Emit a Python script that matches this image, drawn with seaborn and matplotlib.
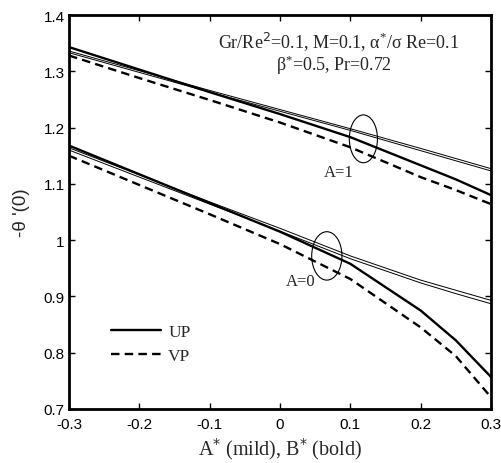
import numpy as np
import pandas as pd
import matplotlib
matplotlib.use("Agg")
import matplotlib.pyplot as plt
from matplotlib.patches import Ellipse
import seaborn as sns

# x grid for parameters
x_vals = [-0.3, -0.2, -0.1, 0.0, 0.1, 0.2, 0.25, 0.3]

# A=1 group
a1_bold_up = [1.343, 1.303, 1.263, 1.224, 1.183, 1.133, 1.108, 1.080]
a1_bold_vp = [1.328, 1.288, 1.249, 1.209, 1.165, 1.112, 1.089, 1.064]
a1_thin_up = [1.336, 1.301, 1.266, 1.232, 1.198, 1.163, 1.145, 1.127]
a1_thin_vp = [1.333, 1.298, 1.263, 1.229, 1.195, 1.159, 1.141, 1.123]

# A=0 group
a0_bold_up = [1.168, 1.117, 1.066, 1.015, 0.958, 0.875, 0.822, 0.757]
a0_bold_vp = [1.150, 1.098, 1.046, 0.993, 0.931, 0.845, 0.794, 0.721]
a0_thin_up = [1.164, 1.116, 1.068, 1.021, 0.972, 0.929, 0.911, 0.893]
a0_thin_vp = [1.160, 1.112, 1.064, 1.016, 0.967, 0.924, 0.905, 0.887]

sns.set_theme(style="white")
plt.rcParams["font.family"] = ["Liberation Sans", "DejaVu Sans"]

fig = plt.figure(figsize=(5.02, 4.64), dpi=100)
ax = fig.add_axes([0.1375, 0.1164, 0.8405, 0.8491])

series = [
    (a1_bold_up, 1.7, "-"), (a1_bold_vp, 1.7, "--"),
    (a1_thin_up, 0.7, "-"), (a1_thin_vp, 0.7, "-"),
    (a0_bold_up, 1.7, "-"), (a0_bold_vp, 1.7, "--"),
    (a0_thin_up, 0.7, "-"), (a0_thin_vp, 0.7, "-"),
]
for yv, lw, ls in series:
    df = pd.DataFrame({"x": x_vals, "y": yv})
    sns.lineplot(data=df, x="x", y="y", ax=ax, color="black", lw=lw,
                 linestyle=ls, legend=False)
    if ls == "--":
        ax.lines[-1].set_dashes((3.6, 2.2))

# Legend handles
h_up, = ax.plot([], [], color="black", lw=1.7, linestyle="-", label="UP")
h_vp, = ax.plot([], [], color="black", lw=1.7, linestyle="--", dashes=(3.6, 2.2), label="VP")
ax.legend(handles=[h_up, h_vp], loc="upper left",
          bbox_to_anchor=(0.062, 0.255), frameon=False,
          prop={"family": "Liberation Serif", "size": 12.5},
          handlelength=2.9, handletextpad=0.4, labelspacing=0.45)

# Ellipses
ax.add_patch(Ellipse((0.1186, 1.180), 0.040, 0.085, fill=False, ec="black", lw=0.8))
ax.add_patch(Ellipse((0.0666, 0.972), 0.043, 0.086, fill=False, ec="black", lw=0.8))
ax.text(0.083, 1.121, "A=1", ha="center", va="center", family="Liberation Serif", fontsize=12)
ax.text(0.029, 0.928, "A=0", ha="center", va="center", family="Liberation Serif", fontsize=12)

ax.text(0.0833, 1.354, r"Gr/Re$^{2}$=0.1, M=0.1, $\mathregular{\alpha^{*}}$/$\mathregular{\sigma}$ Re=0.1",
        ha="center", va="center", family="Liberation Serif", fontsize=13)
ax.text(0.0765, 1.313, r"$\mathregular{\beta^{*}}$=0.5, Pr=0.72",
        ha="center", va="center", family="Liberation Serif", fontsize=13)

ax.set_xlim(-0.3, 0.3)
ax.set_ylim(0.7, 1.4)
ax.set_xticks([-0.3, -0.2, -0.1, 0, 0.1, 0.2, 0.3])
ax.set_xticklabels(["-0.3", "-0.2", "-0.1", "0", "0.1", "0.2", "0.3"])
ax.set_yticks([0.7, 0.8, 0.9, 1.0, 1.1, 1.2, 1.3, 1.4])
ax.set_yticklabels(["0.7", "0.8", "0.9", "1", "1.1", "1.2", "1.3", "1.4"])
ax.tick_params(direction="in", length=4, width=1, top=True, right=True,
               bottom=True, left=True, labelsize=11, colors="black", pad=3)
ax.tick_params(axis="x", pad=6)
for s in ax.spines.values():
    s.set_linewidth(2.0)
    s.set_color("black")
ax.set_xlabel(r"A$^{*}$ (mild), B$^{*}$ (bold)", family="Liberation Serif", fontsize=14.5, labelpad=3)
ax.set_ylabel("-\u03b8 '(0)", family="Liberation Sans", fontsize=13.5, labelpad=10)
ax.grid(False)

fig.savefig("out.png", dpi=100)
